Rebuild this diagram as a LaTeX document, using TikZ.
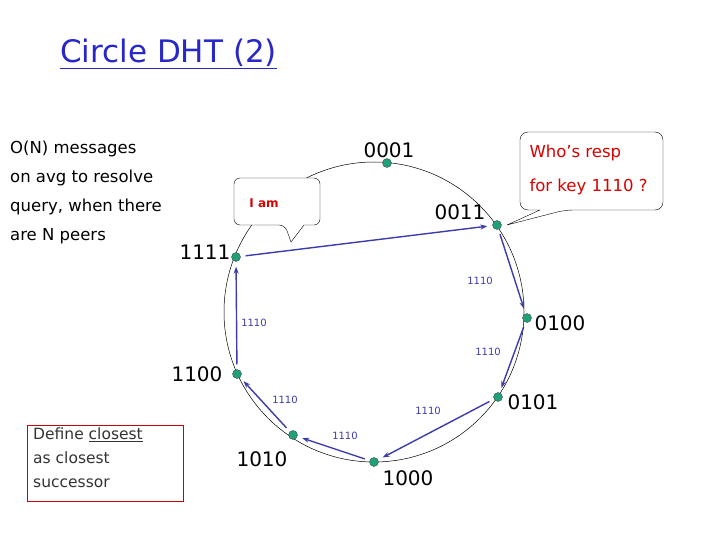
\documentclass[tikz,border=0pt]{standalone}
\usepackage{fontspec}
\setmainfont{DejaVu Sans}
\usetikzlibrary{arrows.meta}
\definecolor{nodegreen}{RGB}{30,160,120}
\definecolor{arrblue}{RGB}{60,60,170}
\definecolor{titleblue}{RGB}{40,40,200}
\begin{document}
\begin{tikzpicture}[x=1pt,y=-1pt,
  peer/.style={circle,fill=nodegreen,draw=black!70,line width=0.4pt,inner sep=0pt,minimum size=9pt},
  big/.style={font=\fontsize{20}{24}\selectfont},
  key/.style={font=\fontsize{10}{12}\selectfont,text=arrblue},
  hop/.style={draw=arrblue,line width=1.4pt,-{Stealth[length=7pt,width=5pt]},shorten >=5pt,shorten <=5pt},
  txt/.style={font=\fontsize{16.5}{29}\selectfont,align=left,anchor=north west,inner sep=0pt}]
\useasboundingbox (0,0) rectangle (720,540);
\fill[white] (0,0) rectangle (720,540);
\node[font=\fontsize{31}{34}\selectfont,text=titleblue,anchor=west,inner sep=0pt] (title) at (60,54) {\underline{Circle DHT (2)}};
\draw[line width=0.5pt] (374,312) circle (150);
\node[peer] (n1) at (387,163) {};
\node[peer] (n3) at (497,225) {};
\node[peer] (n4) at (527,318) {};
\node[peer] (n5) at (498,397) {};
\node[peer] (n8) at (374,462) {};
\node[peer] (n10) at (293,435) {};
\node[peer] (n12) at (237,374) {};
\node[peer] (n15) at (236,257) {};
\node[big] (l1) at (389,150) {0001};
\node[big] (l3) at (460,212) {0011};
\node[big] (l4) at (560,323) {0100};
\node[big] (l5) at (533,402) {0101};
\node[big] (l8) at (408,478) {1000};
\node[big] (l10) at (262,459) {1010};
\node[big] (l12) at (197,374) {1100};
\node[big] (l15) at (205,252) {1111};
\draw[hop] (n15) -- (n3);
\draw[hop] (n3) -- (n4);
\draw[hop] (n4) -- (n5);
\draw[hop] (n5) -- (n8);
\draw[hop] (n8) -- (n10);
\draw[hop] (n10) -- (n12);
\draw[hop] (n12) -- (n15);
\node[key] (k1) at (480,281) {1110};
\node[key] (k2) at (254,323) {1110};
\node[key] (k3) at (488,352) {1110};
\node[key] (k4) at (285,400) {1110};
\node[key] (k5) at (428,411) {1110};
\node[key] (k6) at (345,436) {1110};
\node[txt] (msg) at (10,141) {O(N) messages\\on avg to resolve\\query, when there\\are N peers};
% I am callout
\draw[fill=white] (291,242) -- (304,225) [rounded corners=6pt] -- (320,225) -- (320,178) -- (234,178) -- (234,225) -- (285,225) [sharp corners] -- cycle;
\node[font=\fontsize{12}{14}\selectfont\bfseries,text=red!85!black] (iam) at (264,203) {I am};
% Who's resp callout
\draw[fill=white] (507,225) -- (540,210) [rounded corners=8pt] -- (520,210) -- (520,132) -- (663,132) -- (663,210) -- (565,210) [sharp corners] -- cycle;
\node[font=\fontsize{16.5}{20}\selectfont,text=red!85!black,anchor=west] (who) at (526,153) {Who’s resp};
\node[font=\fontsize{16.5}{20}\selectfont,text=red!85!black,anchor=west] (forkey) at (526,187) {for key 1110 ?};
% Define closest box
\draw[draw=red!80!black,line width=0.6pt] (27,425) rectangle (183,501);
\node[txt,font=\fontsize{15.5}{24}\selectfont,text=black!80] (def) at (33,428) {Define \underline{closest}\\as closest\\successor};
\end{tikzpicture}
\end{document}
